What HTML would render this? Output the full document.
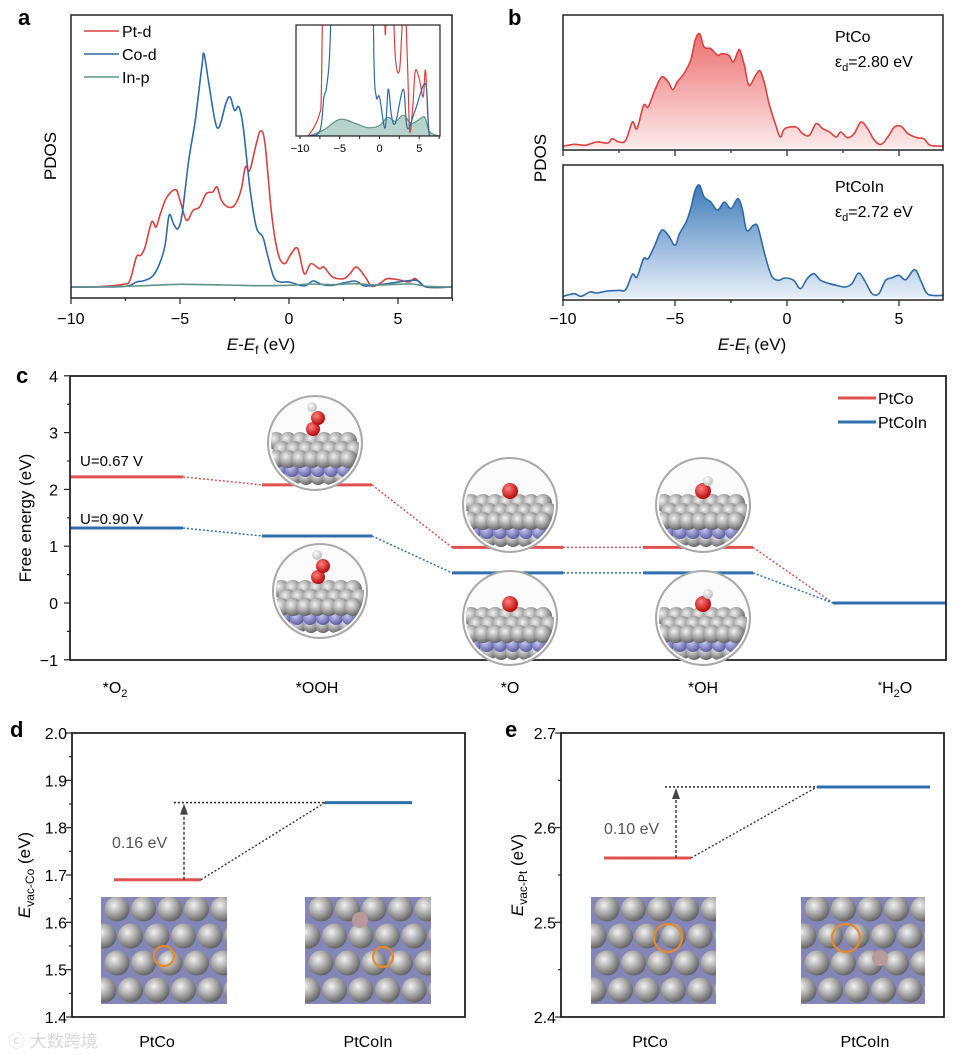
<!DOCTYPE html>
<html><head><meta charset="utf-8"><style>
body{margin:0;background:#fff}
svg{display:block;font-family:"Liberation Sans","Noto Sans CJK SC",sans-serif}
</style></head><body>
<svg id="fig" width="957" height="1055" viewBox="0 0 957 1055" xmlns="http://www.w3.org/2000/svg">
<defs>
<linearGradient id="gRed" x1="0" y1="0" x2="0" y2="1"><stop offset="0" stop-color="#ec6f70"/><stop offset="1" stop-color="#fdeaea"/></linearGradient>
<linearGradient id="gBlue" x1="0" y1="0" x2="0" y2="1"><stop offset="0" stop-color="#3f7bbb"/><stop offset="1" stop-color="#e8f0f9"/></linearGradient>
<radialGradient id="gSph" cx="0.38" cy="0.35" r="0.7"><stop offset="0" stop-color="#f2f2f2"/><stop offset="0.5" stop-color="#a9a9a9"/><stop offset="1" stop-color="#5c5c5c"/></radialGradient>
<radialGradient id="gPur" cx="0.38" cy="0.35" r="0.7"><stop offset="0" stop-color="#c8c8f0"/><stop offset="1" stop-color="#5656a0"/></radialGradient>
<radialGradient id="gO" cx="0.38" cy="0.35" r="0.7"><stop offset="0" stop-color="#ff8080"/><stop offset="1" stop-color="#b00000"/></radialGradient>
<radialGradient id="gH" cx="0.38" cy="0.35" r="0.7"><stop offset="0" stop-color="#ffffff"/><stop offset="1" stop-color="#b8b8b8"/></radialGradient>
<clipPath id="clipInset"><rect x="296" y="25" width="144" height="111"/></clipPath>
</defs>
<g id="root"></g>
<text x="18" y="25" font-size="22" font-weight="bold">a</text>
<text x="508" y="25" font-size="22" font-weight="bold">b</text>
<text x="16" y="383" font-size="22" font-weight="bold">c</text>
<text x="10" y="737" font-size="22" font-weight="bold">d</text>
<text x="505" y="737" font-size="22" font-weight="bold">e</text>
<text x="8" y="1047" font-size="17" fill="#d8d8d8">ⓒ 大数跨境</text>
</svg>
<script>
// ===== Panel a data =====
const aPtE=[-10,-9,-7.6,-7.3,-7,-6.8,-6.6,-6.3,-6.1,-5.9,-5.6,-5.2,-5,-4.7,-4.4,-4.1,-3.8,-3.5,-3.3,-3.1,-2.8,-2.5,-2.2,-2,-1.8,-1.5,-1.3,-1.1,-0.8,-0.5,-0.2,0.1,0.4,0.7,1,1.4,1.6,2,2.5,2.8,3.1,3.5,3.8,4.2,4.5,5,5.5,5.8,6.3,7.5];
const aPtV=[0,0,0.8,2,9,9.5,12,19.5,18,22,27,29.2,26,20,23,24,28,28.5,30,26,24,24.5,29,36,35,43,46.8,43,22,10,7,10,11.5,4,7,5.5,6,3,2.5,4,6,3,0.2,1.2,2.5,2.2,1.5,2.5,0,0];
const aCoE=[-10,-9,-7.5,-7,-6.7,-6.3,-6,-5.7,-5.5,-5.3,-5.1,-4.9,-4.6,-4.3,-4,-3.9,-3.7,-3.4,-3.2,-2.9,-2.7,-2.5,-2.3,-2.1,-1.8,-1.5,-1.2,-1,-0.7,-0.4,0,0.7,1.1,1.5,2,3,3.5,4.5,5.8,6.3,7.5];
const aCoV=[0,0,0.2,1.5,1.8,3,6,12,21.5,19,17.5,22,38,50,66,70,62,50,48,55,57,53,54,48,30,18,15,10,3,1.5,1.5,0.3,1.8,0.8,0.5,1.8,0.3,1,2,0,0];
const aInE=[-10,-9,-7,-5,-3,-1.5,0,1,2,3,4,5,5.7,6.3,7.5];
const aInV=[0,0,0.3,0.8,0.6,0.4,0.5,0.9,0.7,1.0,0.6,0.8,0.9,0.2,0];
const aTicks=[-10,-5,0,5];
// ===== Panel b data =====
const bPtE=[-10,-9.5,-9,-8.5,-8,-7.8,-7.5,-7.2,-6.9,-6.7,-6.4,-6.2,-5.9,-5.6,-5.3,-5.1,-4.9,-4.6,-4.3,-4.1,-3.9,-3.7,-3.4,-3.1,-2.9,-2.6,-2.4,-2.2,-2.1,-1.9,-1.7,-1.4,-1.2,-1,-0.8,-0.5,-0.3,-0.1,0.4,0.7,1,1.3,1.6,1.9,2.2,2.4,2.7,3,3.3,3.6,3.9,4.2,4.5,4.8,5.1,5.4,5.8,6.1,6.4,7];
const bPtV=[0.2,0.8,0.5,1.5,1.2,2.5,1.5,2,7.5,5.5,12.5,12,17,21,19.5,17.2,19.5,22,26,32,34,30,29.5,27.5,28,27.5,25.5,28.5,29,24.5,18.5,21.5,22.8,19,13,6.5,3,5.5,6,4,3.5,7,5.5,4.5,3,4.5,2.8,4,7.5,5.5,2,0.8,3,6,6.2,4,2.8,2.5,0.5,0.3];
const bCoE=[-10,-9.5,-9.2,-8.8,-8.5,-8,-7.5,-7.2,-6.9,-6.7,-6.4,-6.2,-5.9,-5.6,-5.3,-5,-4.8,-4.5,-4.3,-4.1,-3.9,-3.7,-3.4,-3.1,-2.8,-2.5,-2.2,-2,-1.8,-1.5,-1.3,-1,-0.7,-0.4,-0.1,0.3,0.6,0.9,1.2,1.5,1.9,2.2,2.6,2.9,3.2,3.5,3.8,4.1,4.4,4.7,5,5.3,5.7,6,6.3,7];
const bCoV=[0.2,1,0.2,1.5,1.2,1.8,2,2.2,6.8,6,11.5,11.5,15.5,20,18.5,15.5,19,22.5,26.5,32,33.5,30,28.5,26,28.5,26.5,29.5,26.5,20,21.5,21,13,6.5,5,5.7,5,2.5,5.5,7,5,4,3.5,3,4,7.2,4.5,1,1,5,5.8,6.5,5.2,8.2,4.5,0.8,0.5];
const bTicks=[-10,-5,0,5];
// ===== Panel c data =====
const cSteps=["*O2","*OOH","*O","*OH","*H2O"];
const cPtCo=[2.22,2.08,0.98,0.98,0];
const cPtCoIn=[1.32,1.18,0.53,0.53,0];
const cYTicks=[-1,0,1,2,3,4];
// ===== Panel d/e data =====
const dCats=["PtCo","PtCoIn"];
const dVals=[1.69,1.853];
const dYTicks=[1.4,1.5,1.6,1.7,1.8,1.9,2.0];
const eCats=["PtCo","PtCoIn"];
const eVals=[2.568,2.643];
const eYTicks=[2.4,2.5,2.6,2.7];

const NS="http://www.w3.org/2000/svg";
const root=document.getElementById('root');
function mk(tag,attrs,parent){const e=document.createElementNS(NS,tag);for(const k in attrs)e.setAttribute(k,attrs[k]);(parent||root).appendChild(e);return e;}
function smooth(p){let d=`M${p[0][0].toFixed(1)},${p[0][1].toFixed(1)}`;for(let i=0;i<p.length-1;i++){const p0=p[i-1]||p[i],p1=p[i],p2=p[i+1],p3=p[i+2]||p2;const c1=[p1[0]+(p2[0]-p0[0])/6,p1[1]+(p2[1]-p0[1])/6],c2=[p2[0]-(p3[0]-p1[0])/6,p2[1]-(p3[1]-p1[1])/6];d+=`C${c1[0].toFixed(1)},${c1[1].toFixed(1)} ${c2[0].toFixed(1)},${c2[1].toFixed(1)} ${p2[0].toFixed(1)},${p2[1].toFixed(1)}`;}return d;}
function txt(x,y,s,size,attrs,parent){const t=mk('text',Object.assign({x:x,y:y,'font-size':size},attrs||{}),parent);t.textContent=s;return t;}

// ===== Panel a =====
const ax=v=>71+(v+10)*21.8, ay=v=>287-v*10/3;
let g=mk('g',{});


[[aPtE,aPtV,'#d9413f','pt-d-curve'],[aCoE,aCoV,'#2f6aa6','co-d-curve'],[aInE,aInV,'#5f9388','in-p-curve']].forEach(s=>{
  const p=mk('path',{d:smooth(s[0].map((e,i)=>[ax(e),ay(s[1][i])])),fill:'none',stroke:s[2],'stroke-width':1.6},g);
  
  
});
mk('rect',{x:71,y:15,width:381,height:283,fill:'none',stroke:'#222','stroke-width':1.5},g);
for(let v=-10;v<=7.5;v+=2.5){mk('line',{x1:ax(v),x2:ax(v),y1:298,y2:aTicks.includes(v)?304:301,stroke:'#222','stroke-width':1.2},g);}
aTicks.forEach(v=>{const t=txt(ax(v),324,v<0?'−'+(-v):String(v),16,{'text-anchor':'middle'},g);});
let xt=mk('text',{x:261,y:350,'font-size':17,'text-anchor':'middle'},g);xt.innerHTML='<tspan font-style="italic">E</tspan>-<tspan font-style="italic">E</tspan><tspan font-size="12" dy="4">f</tspan><tspan dy="-4"> (eV)</tspan>';

let yt=txt(0,0,'PDOS',17,{transform:'translate(56,156) rotate(-90)','text-anchor':'middle'},g);

[['Pt-d','#d9413f',37],['Co-d','#2f6aa6',60],['In-p','#5f9388',83]].forEach(l=>{
  const lg=mk('g',{},g);
  mk('line',{x1:84,x2:119,y1:l[2]-6,y2:l[2]-6,stroke:l[1],'stroke-width':1.6},lg);
  txt(122,l[2],l[0],16,{},lg);
});
// inset
const ix=v=>300+(v+10)*7.95, iy=v=>136-v*26;
let ig=mk('g',{});


let cg=mk('g',{'clip-path':'url(#clipInset)'},ig);
mk('path',{d:smooth(aInE.map((e,i)=>[ix(e),iy(aInV[i]*0.8)]))+`L${ix(7.5)},136L${ix(-10)},136Z`,fill:'#b8d3cb',stroke:'#5f9388','stroke-width':1.2},cg);
mk('path',{d:smooth(aPtE.map((e,i)=>[ix(e),iy(aPtV[i])])),fill:'none',stroke:'#d9413f','stroke-width':1.2},cg);
mk('path',{d:smooth(aCoE.map((e,i)=>[ix(e),iy(aCoV[i])])),fill:'none',stroke:'#2f6aa6','stroke-width':1.2},cg);
mk('rect',{x:296,y:25,width:144,height:111,fill:'none',stroke:'#222','stroke-width':1.2},ig);
for(let v=-10;v<=7.5;v+=2.5){mk('line',{x1:ix(v),x2:ix(v),y1:136,y2:139,stroke:'#222','stroke-width':1},ig);}
aTicks.forEach(v=>txt(ix(v),152,v<0?'−'+(-v):String(v),11,{'text-anchor':'middle'},ig));

// ===== Panel b =====
const bx=v=>563+(v+10)*22.4;
let bg=mk('g',{});


[[bPtE,bPtV,147,'#d9413f','url(#gRed)','ptco-d-band',15,'PtCo','2.80'],[bCoE,bCoV,297,'#2f6aa6','url(#gBlue)','ptcoin-d-band',165,'PtCoIn','2.72']].forEach(s=>{
  const by=v=>s[2]-v*10/3;
  const pts=s[0].map((e,i)=>[bx(e),by(s[1][i])]);
  const line=smooth(pts);
  mk('path',{d:line+`L${bx(7)},${s[2]+1}L${bx(-10)},${s[2]+1}Z`,fill:s[4],stroke:'none'},bg);
  const p=mk('path',{d:line,fill:'none',stroke:s[3],'stroke-width':1.6},bg);
  
  
  mk('rect',{x:563,y:s[6],width:380,height:(s[2]+3)-s[6],fill:'none',stroke:'#222','stroke-width':1.5},bg);
  txt(835,s[6]+27,s[7],16,{},bg);
  const e=mk('text',{x:835,y:s[6]+52,'font-size':16},bg);e.innerHTML=`ε<tspan font-size="11" dy="4">d</tspan><tspan dy="-4">=${s[8]} eV</tspan>`;
});
for(let v=-10;v<=7;v+=2.5){[150,300].forEach(y=>mk('line',{x1:bx(v),x2:bx(v),y1:y,y2:y+(bTicks.includes(v)?6:3),stroke:'#222','stroke-width':1.2},bg));}
bTicks.forEach(v=>{const t=txt(bx(v),324,v<0?'−'+(-v):String(v),16,{'text-anchor':'middle'},bg);});
let bxt=mk('text',{x:752,y:350,'font-size':17,'text-anchor':'middle'},bg);bxt.innerHTML='<tspan font-style="italic">E</tspan>-<tspan font-style="italic">E</tspan><tspan font-size="12" dy="4">f</tspan><tspan dy="-4"> (eV)</tspan>';

let byt=txt(0,0,'PDOS',17,{transform:'translate(546,158) rotate(-90)','text-anchor':'middle'},bg);


// ===== structure drawings =====
function sph(cx,cy,r,fill,parent){mk('circle',{cx:cx,cy:cy,r:r,fill:fill},parent);}
function bubble(cx,cy,ads,indium){
  const gg=mk('g',{});
  
  
  mk('circle',{cx:cx,cy:cy,r:47,fill:'#fbfbfb',stroke:'#a8a8a8','stroke-width':2},gg);
  const id='cl'+Math.round(cx)+'_'+Math.round(cy);
  const cp=mk('clipPath',{id:id},gg);mk('circle',{cx:cx,cy:cy,r:44},cp);
  const inner=mk('g',{'clip-path':`url(#${id})`},gg);
  for(let c=-4;c<=4;c++)sph(cx+c*12+3,cy+34,8,'url(#gSph)',inner);
  for(let c=-3;c<=3;c++)sph(cx+c*13+3,cy+27,7,'url(#gPur)',inner);
  if(indium)sph(cx-13,cy+16,8,'#b09090',inner);
  for(let r=0;r<3;r++)for(let c=-3;c<=3;c++)sph(cx+c*12+(r%2)*6-3,cy-2+r*9,9,'url(#gSph)',inner);
  const top=cy-12;
  if(ads==='OOH'){sph(cx-2,top-2,7,'url(#gO)',gg);sph(cx+3,top-13,7,'url(#gO)',gg);sph(cx-3,top-24,5,'url(#gH)',gg);}
  if(ads==='O'){sph(cx,top-2,8,'url(#gO)',gg);}
  if(ads==='OH'){sph(cx,top-2,8,'url(#gO)',gg);sph(cx+5,top-12,5,'url(#gH)',gg);}
}
function slab(x,y,w,h,ring,indium){
  const gg=mk('g',{});
  
  
  const id='sl'+x;
  const cp=mk('clipPath',{id:id},gg);mk('rect',{x:x,y:y,width:w,height:h},cp);
  const inner=mk('g',{'clip-path':`url(#${id})`},gg);
  mk('rect',{x:x,y:y,width:w,height:h,fill:'#8585b8'},inner);
  for(let r=0;r<4;r++)for(let c=0;c<6;c++){const cy=y+12+r*27;sph(x+10+c*26.5-(r%2)*13+6,cy,12.5,'url(#gSph)',inner);}
  if(indium)sph(indium[0],indium[1],8,'#b89a9a',inner);
  mk('circle',{cx:ring[0],cy:ring[1],r:ring[2],fill:'none',stroke:'#e5892a','stroke-width':2.2},gg);
}

// ===== Panel c =====
const cy0=v=>603-v*56.8;
const cStepX=[[70,183],[262,372],[452,563],[643,753],[833,946]];
let pc=mk('g',{});


bubble(315,443,'OOH',false);
bubble(320,591,'OOH',true);
bubble(510,505,'O',false);
bubble(510,618,'O',true);
bubble(703,505,'OH',false);
bubble(703,618,'OH',true);
[[cPtCo,'#e05050','ptco'],[cPtCoIn,'#2e6fad','ptcoin']].forEach(s=>{
  s[0].forEach((v,i)=>{
    const l=mk('line',{x1:cStepX[i][0],x2:cStepX[i][1],y1:cy0(v),y2:cy0(v),stroke:s[1],'stroke-width':3},pc);
    
    
    if(i<s[0].length-1)mk('line',{x1:cStepX[i][1],x2:cStepX[i+1][0],y1:cy0(v),y2:cy0(s[0][i+1]),stroke:s[1],'stroke-width':1.5,'stroke-dasharray':'2,2'},pc);
  });
});
mk('rect',{x:70,y:376,width:876,height:284,fill:'none',stroke:'#222','stroke-width':1.8},pc);
for(let v=-1;v<=4;v+=0.5){mk('line',{x1:70,x2:v%1===0?64:67,y1:cy0(v),y2:cy0(v),stroke:'#222','stroke-width':1.2},pc);}
cYTicks.forEach(v=>{const t=txt(58,cy0(v)+6,v<0?'−'+(-v):String(v),16,{'text-anchor':'end'},pc);});
let cyt=txt(0,0,'Free energy (eV)',17,{transform:'translate(31,518) rotate(-90)','text-anchor':'middle'},pc);

const cLabX=[115,317,510,703,895];
cSteps.forEach((s,i)=>{const t=mk('text',{x:cLabX[i],y:693,'font-size':16,'text-anchor':'middle'},pc);
  if(s==='*O2')t.innerHTML='*O<tspan font-size="11" dy="4">2</tspan>';
  else if(s==='*H2O')t.innerHTML='<tspan font-size="11" dy="-4">*</tspan><tspan dy="4">H</tspan><tspan font-size="11" dy="4">2</tspan><tspan dy="-4">O</tspan>';
  else t.textContent=s;
  });
txt(80,466,'U=0.67 V',15,{},pc);
txt(80,524,'U=0.90 V',15,{},pc);
[['PtCo','#e05050',398],['PtCoIn','#2e6fad',422]].forEach(l=>{
  const lg=mk('g',{},pc);
  mk('line',{x1:838,x2:876,y1:l[2],y2:l[2],stroke:l[1],'stroke-width':3},lg);
  txt(878,l[2]+6,l[0],16,{},lg);
});

// ===== Panels d & e =====
function vacPanel(name,x0,x1,ymin,ymax,ticks,vals,cats,segs,dashStart,arrowX,label,labelPos,ylabSub,ylabX,catX,decimals,slabs){
  const pg=mk('g',{});
  
  
  const Y=v=>1017-(v-ymin)*(284/(ymax-ymin));
  slabs.forEach(s=>slab(s[0],s[1],s[2],s[3],s[4],s[5]));
  const cols=['#e05050','#2e6fad'];
  vals.forEach((v,i)=>{const l=mk('line',{x1:segs[i][0],x2:segs[i][1],y1:Y(v),y2:Y(v),stroke:cols[i],'stroke-width':3},pg);
    });
  mk('line',{x1:segs[0][1],x2:segs[1][0],y1:Y(vals[0]),y2:Y(vals[1]),stroke:'#333','stroke-width':1.4,'stroke-dasharray':'2,2'},pg);
  mk('line',{x1:dashStart,x2:segs[1][0],y1:Y(vals[1]),y2:Y(vals[1]),stroke:'#333','stroke-width':1.6,'stroke-dasharray':'2,2'},pg);
  mk('line',{x1:arrowX,x2:arrowX,y1:Y(vals[0]),y2:Y(vals[1])+11,stroke:'#333','stroke-width':1.4,'stroke-dasharray':'3,2'},pg);
  const ar=mk('path',{d:`M${arrowX-4},${Y(vals[1])+12}L${arrowX},${Y(vals[1])+1}L${arrowX+4},${Y(vals[1])+12}Z`,fill:'#444'},pg);
  
  txt(labelPos[0],labelPos[1],label,16,{fill:'#555'},pg);
  mk('rect',{x:x0,y:733,width:x1-x0,height:284,fill:'none',stroke:'#222','stroke-width':1.8},pg);
  const step=(ticks[1]-ticks[0])/2;
  for(let v=ymin;v<=ymax+1e-9;v+=step){mk('line',{x1:x0,x2:x0-((Math.round((v-ymin)/step))%2?3:6),y1:Y(v),y2:Y(v),stroke:'#222','stroke-width':1.2},pg);}
  ticks.forEach(v=>{const t=txt(x0-5,Y(v)+6,v.toFixed(1),16,{'text-anchor':'end'},pg);});
  cats.forEach((c,i)=>{const t=txt(catX[i],1047,c,16,{'text-anchor':'middle'},pg);});
  const yl=mk('text',{transform:`translate(${ylabX},875) rotate(-90)`,'font-size':17,'text-anchor':'middle'},pg);
  yl.innerHTML=`<tspan font-style="italic">E</tspan><tspan font-size="12" dy="4">${ylabSub}</tspan><tspan dy="-4"> (eV)</tspan>`;
  
}
vacPanel('panel-d-vacancy-co',72,465,1.4,2.0,dYTicks,dVals,dCats,[[114,201],[325,412]],174,184,'0.16 eV',[112,848],'vac-Co',30,[157,368],1,
  [[101,897,126,107,[164,956,10],null],[305,897,126,107,[383,957,10],[360,920]]]);
vacPanel('panel-e-vacancy-pt',561,944,2.4,2.7,eYTicks,eVals,eCats,[[604,691],[817,930]],665,676,'0.10 eV',[604,834],'vac-Pt',523,[650,865],1,
  [[591,897,125,107,[668,938,14],null],[801,897,124,107,[846,938,14],[880,958]]]);
</script>
</body></html>
